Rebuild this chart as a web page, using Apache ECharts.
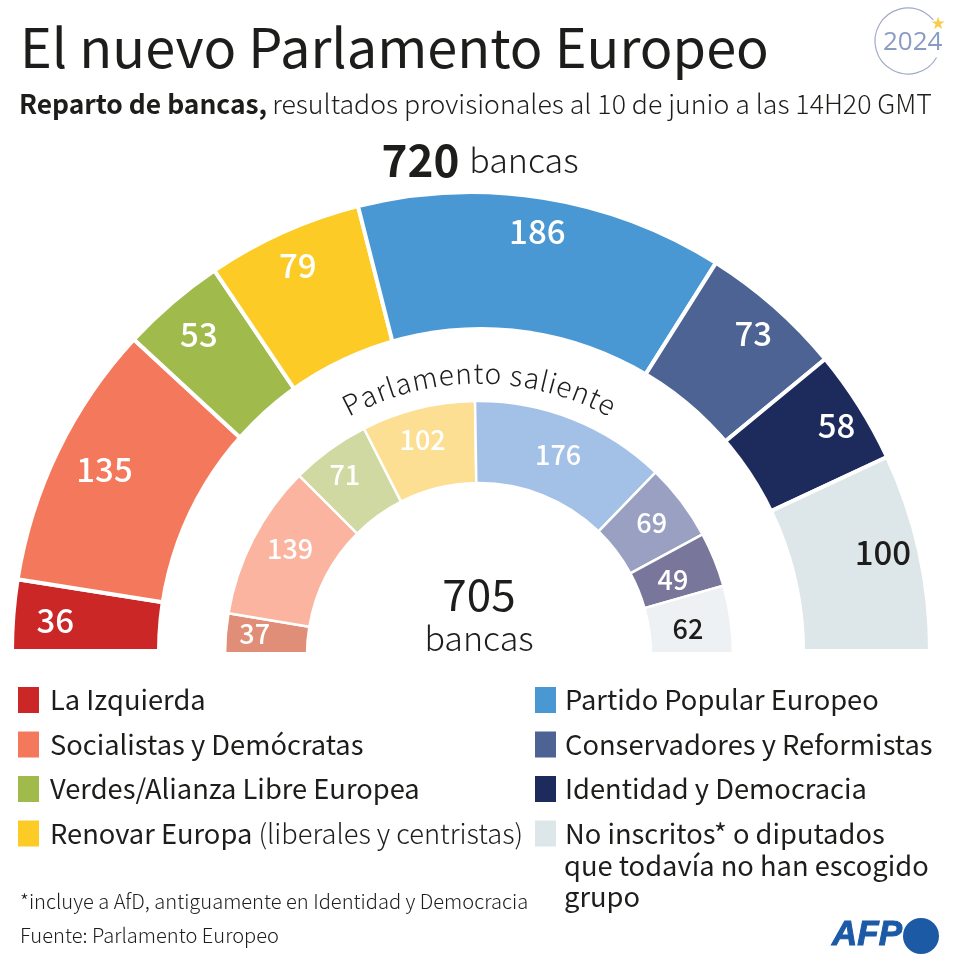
<!DOCTYPE html>
<html>
<head>
<meta charset="utf-8">
<style>
  html, body { margin: 0; padding: 0; background: #fff; }
  #chart { width: 962px; height: 966px; }
</style>
<script src="https://cdn.jsdelivr.net/npm/echarts@6/dist/echarts.min.js"></script>
</head>
<body>
<div id="chart"></div>
<script>
const FONT = '"Noto Sans CJK SC", "Noto Sans", sans-serif';
const INK = '#1d1d1b';

// data
const groups = ['La Izquierda', 'Socialistas y Demócratas', 'Verdes/Alianza Libre Europea', 'Renovar Europa',
  'Partido Popular Europeo', 'Conservadores y Reformistas', 'Identidad y Democracia', 'No inscritos* o diputados'];
const seatsNew = [36, 135, 53, 79, 186, 73, 58, 100];
const seatsOld = [37, 139, 71, 102, 176, 69, 49, 62];
const colorsNew = ['#cc2727', '#f4785c', '#a0ba4c', '#fdcb25', '#4a98d3', '#4c6393', '#1d2a5c', '#dde6e8'];
const colorsOld = ['#e08e78', '#fbb4a0', '#cfd9a1', '#fddf94', '#a3c1e6', '#9aa0c2', '#78769a', '#edf1f3'];
const darkLabel = ['No inscritos* o diputados'];
// nudges of the value labels, the original does not centre them
const nudgeNew = [[7, 3], [15, 3], [4, 5], [0, 1], [0, -1], [2, 1], [7, 1], [-2, -7]];
const nudgeOld = [[-7, -3], [5, -7], [-6, -4], [-4, -4], [-1, 2], [-1, -1], [-8, 7], [-7, 4]];

// semicircle ring
function ring(values, colors, center, radius, border, z) {
  return {
    type: 'pie', silent: true, startAngle: 180, endAngle: 0, center, radius, z,
    label: { show: false }, labelLine: { show: false },
    itemStyle: { borderColor: '#fff', borderWidth: border },
    data: values.map((v, i) => ({ name: groups[i], value: v, itemStyle: { color: colors[i] } })),
  };
}

// transparent ring that only carries the value labels
function labelRing(values, center, radius, fontSize, nudge, z) {
  return {
    type: 'pie', silent: true, startAngle: 180, endAngle: 0, center, radius, z,
    itemStyle: { color: 'transparent' },
    labelLine: { show: false },
    labelLayout: p => ({ dx: nudge[p.dataIndex][0], dy: nudge[p.dataIndex][1] }),
    label: { show: true, position: 'inside', formatter: '{c}', fontFamily: FONT, fontSize, fontWeight: 500, color: '#fff' },
    data: values.map((v, i) => ({
      name: groups[i], value: v,
      label: darkLabel.includes(groups[i]) ? { color: INK } : {},
    })),
  };
}

// curved caption
function curvedText(str, cx, cy, r, fontSize, spacing) {
  const ctx = document.createElement('canvas').getContext('2d');
  ctx.font = '300 ' + fontSize + 'px ' + FONT;
  const widths = [...str].map(c => ctx.measureText(c).width + spacing);
  const total = widths.reduce((a, b) => a + b, 0);
  let pos = -total / 2;
  return [...str].map((c, i) => {
    const th = (pos + widths[i] / 2) / r;
    pos += widths[i];
    return {
      type: 'text', z: 6, x: cx + r * Math.sin(th), y: cy - r * Math.cos(th), rotation: -th,
      style: { text: c, fontFamily: FONT, fontSize, fontWeight: 300, fill: INK, align: 'center', verticalAlign: 'bottom' },
    };
  });
}

function txt(x, y, text, fontSize, extra) {
  return { type: 'text', z: 6, x, y, style: Object.assign({ text, fontFamily: FONT, fontSize, fill: INK, verticalAlign: 'middle' }, extra || {}) };
}

function legendBox(left, names, pad) {
  return {
    left, top: 680, orient: 'vertical', selectedMode: false, z: 6,
    itemWidth: 23, itemHeight: 28, itemGap: 14.5, icon: 'rect',
    textStyle: { fontFamily: FONT, fontSize: 27.3, color: INK, padding: [0, 0, 0, pad],
      rich: {
        a: { fontFamily: FONT, fontSize: 27.3, color: INK },
        b: { fontFamily: FONT, fontSize: 27.3, fontWeight: 300, color: INK },
      } },
    formatter: n => n === 'Renovar Europa' ? '{a|Renovar Europa} {b|(liberales y centristas)}' : n,
    data: names,
  };
}

const option = {
  animation: false,
  backgroundColor: '#fff',
  title: [
    { text: 'El nuevo Parlamento Europeo', left: 15, top: 15, textStyle: { fontFamily: FONT, fontSize: 54.1, fontWeight: 400, color: INK } },
    { text: '{b|Reparto de bancas,} {l|resultados provisionales al 10 de junio a las 14H20 GMT}', left: 14, top: 86,
      textStyle: { rich: {
        b: { fontFamily: FONT, fontSize: 26.4, fontWeight: 700, color: INK },
        l: { fontFamily: FONT, fontSize: 26.7, fontWeight: 300, color: INK },
      } } },
  ],
  legend: [legendBox(11, groups.slice(0, 4), 5), legendBox(528, groups.slice(4), 3)],
  series: [
    ring(seatsNew, colorsNew, [471, 651], [0, 459], 4, 1),
    // inner edge of the big ring is slightly off-centre
    { type: 'pie', silent: true, startAngle: 180, endAngle: 0, center: [481, 651], radius: [0, 324], z: 2,
      label: { show: false }, labelLine: { show: false }, itemStyle: { color: '#fff' }, data: [{ name: 'hueco', value: 1 }] },
    ring(seatsOld, colorsOld, [479, 655], [172, 254], 2.5, 3),
    labelRing(seatsNew, [471, 651], [410, 432], 33, nudgeNew, 4),
    labelRing(seatsOld, [479, 655], [205, 225], 27, nudgeOld, 4),
  ],
  graphic: [
    // crop the rings along the bottom
    { type: 'rect', z: 5, shape: { x: 0, y: 652, width: 962, height: 30 }, style: { fill: '#fff' } },
    ...curvedText('Parlamento saliente', 479, 655, 268, 28, 0.8),
    { type: 'text', z: 6, x: 480, y: 160, style: { text: '{b|720}{l|bancas}', align: 'center', verticalAlign: 'middle',
      rich: { b: { fontFamily: FONT, fontSize: 44, fontWeight: 700, fill: INK, color: INK }, l: { fontFamily: FONT, fontSize: 34, fontWeight: 300, fill: INK, color: INK, padding: [0, 0, 0, 10] } } } },
    txt(479, 594, '705', 44, { align: 'center' }),
    txt(479, 638, 'bancas', 34, { align: 'center', fontWeight: 300 }),
    // rest of the last legend entry
    txt(564, 866, 'que todavía no han escogido', 27.3),
    txt(564, 897, 'grupo', 27.3),
    txt(20, 901, '*incluye a AfD, antiguamente en Identidad y Democracia', 20.1, { fontWeight: 300 }),
    txt(20, 935, 'Fuente: Parlamento Europeo', 20.1, { fontWeight: 300 }),
    // 2024 badge
    { type: 'arc', z: 6, shape: { cx: 908, cy: 41, r: 33, startAngle: 30 * Math.PI / 180, endAngle: 320 * Math.PI / 180, clockwise: true },
      style: { stroke: '#a3aac6', lineWidth: 1.2, fill: null } },
    txt(883, 43, '2024', 26, { fill: '#8c9bc4', fontFamily: '"Open Sans", sans-serif' }),
    txt(938, 25, '★', 17, { fill: '#fbcb4d', align: 'center', fontFamily: '"DejaVu Sans", sans-serif' }),
    // AFP logo
    txt(832, 935, 'AFP', 35, { fill: '#1c5aa6', stroke: '#1c5aa6', lineWidth: 1, fontFamily: '"Liberation Sans", sans-serif', fontWeight: 700, fontStyle: 'italic' }),
    { type: 'circle', z: 6, shape: { cx: 921, cy: 936, r: 18 }, style: { fill: '#1c5aa6' } },
  ],
};

const chart = echarts.init(document.getElementById('chart'));
chart.setOption(option);
</script>
</body>
</html>
